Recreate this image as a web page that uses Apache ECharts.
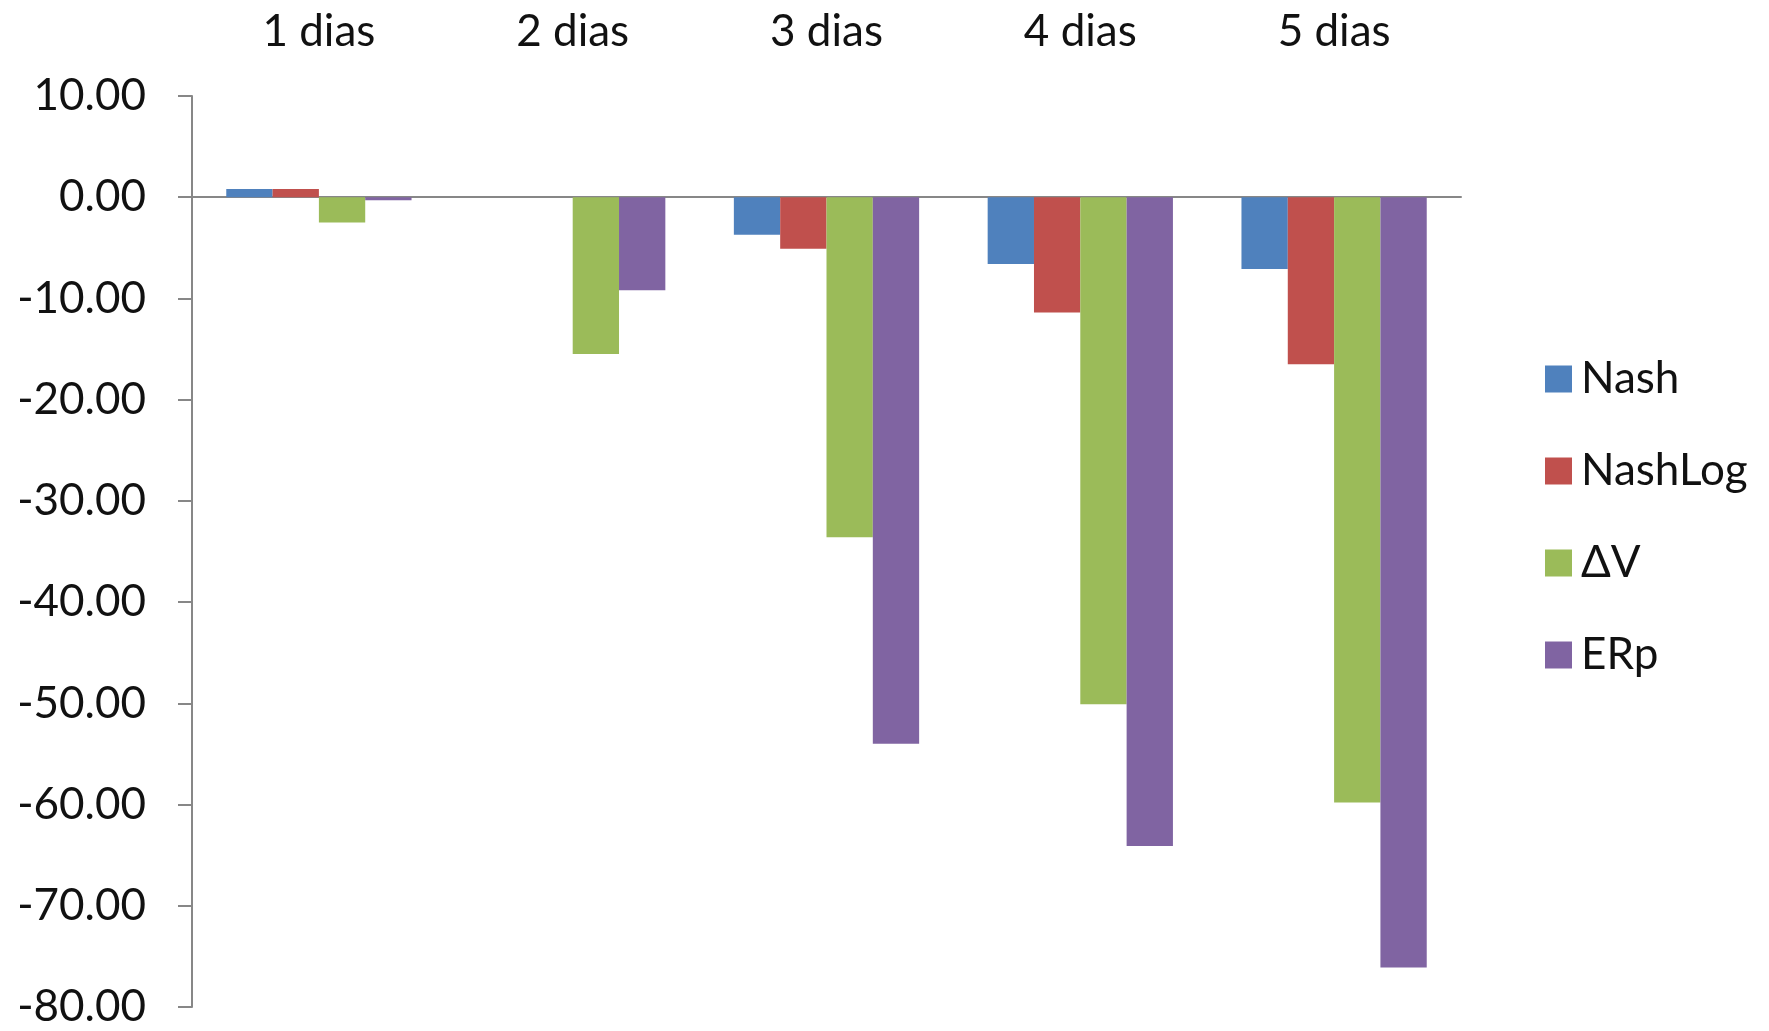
<!DOCTYPE html>
<html>
<head>
<meta charset="utf-8">
<title>Variação por dias</title>
<script src="https://cdn.jsdelivr.net/npm/echarts@6/dist/echarts.min.js"></script>
<style>
  html, body { margin: 0; padding: 0; background: #ffffff; }
  #chart { width: 1769px; height: 1031px; }
</style>
</head>
<body>
<div id="chart"></div>
<script>
// Categories (horizon in days)
const categories = ['1 dias', '2 dias', '3 dias', '4 dias', '5 dias'];

// Series values
const nash    = [0.8, 0.0, -3.7, -6.6, -7.1];
const nashLog = [0.8, 0.0, -5.1, -11.4, -16.5];
const deltaV  = [-2.5, -15.5, -33.6, -50.1, -59.8];
const erp     = [-0.3, -9.2, -54.0, -64.1, -76.1];

// Series names
const seriesNames = ['Nash', 'NashLog', 'ΔV', 'ERp'];
const seriesColors = ['#4F81BD', '#C0504D', '#9BBB59', '#8064A2'];

// Value axis range
const yMin = -80;
const yMax = 10;
const yStep = 10;

const FONT = 'Lato, "Open Sans", sans-serif';
const TEXT = '#111111';
const AXIS = '#878787';

const seriesData = [nash, nashLog, deltaV, erp];

const chart = echarts.init(document.getElementById('chart'), null, { renderer: 'canvas' });

chart.setOption({
  animation: false,
  backgroundColor: '#ffffff',
  textStyle: { fontFamily: FONT },
  grid: { left: 192, right: 308, top: 96, bottom: 24, containLabel: false },
  legend: {
    orient: 'vertical',
    left: 1540,
    top: 351,
    icon: 'rect',
    itemWidth: 27,
    itemHeight: 27,
    itemGap: 46,
    data: seriesNames,
    textStyle: {
      fontFamily: FONT,
      fontSize: 44,
      color: TEXT,
      lineHeight: 46,
      padding: [0, 0, 0, 4]
    }
  },
  xAxis: [
    {
      type: 'category',
      data: categories,
      position: 'top',
      axisLine: { show: false, onZero: false },
      axisTick: { show: false },
      axisLabel: {
        fontFamily: FONT,
        fontSize: 44,
        color: TEXT,
        margin: 42
      }
    },
    {
      // zero baseline drawn across the plot
      type: 'category',
      data: categories,
      position: 'bottom',
      axisLine: { show: true, onZero: true, lineStyle: { color: AXIS, width: 2 } },
      axisTick: { show: false },
      axisLabel: { show: false }
    }
  ],
  yAxis: {
    type: 'value',
    min: yMin,
    max: yMax,
    interval: yStep,
    axisLine: { show: true, lineStyle: { color: AXIS, width: 2 } },
    axisTick: { show: true, inside: false, length: 14, lineStyle: { color: AXIS, width: 2 } },
    splitLine: { show: false },
    axisLabel: {
      fontFamily: FONT,
      fontSize: 44,
      color: TEXT,
      margin: 46,
      formatter: v => v.toFixed(2)
    }
  },
  series: seriesNames.map((name, i) => ({
    name: name,
    type: 'bar',
    xAxisIndex: 0,
    data: seriesData[i],
    barGap: '0%',
    barCategoryGap: '27%',
    itemStyle: { color: seriesColors[i] }
  }))
});
</script>
</body>
</html>
